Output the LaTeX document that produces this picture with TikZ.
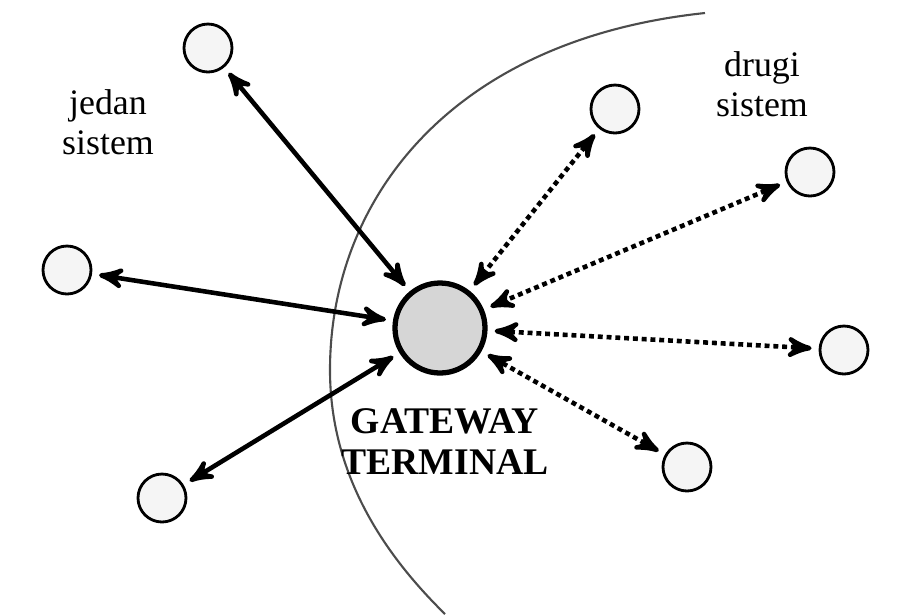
\documentclass[tikz,border=0pt]{standalone}
\usepackage{fontspec}
\setmainfont{Liberation Serif}
\usepackage{tikz}
\usetikzlibrary{arrows}
\usetikzlibrary{positioning}
\newlength{\gwunit}
\setlength{\gwunit}{0.01cm}
\tikzstyle{hoststyle}=[circle, draw, line width=0.8pt, fill=gray!8, minimum size=48\gwunit, inner sep=0pt]
\tikzstyle{gatestyle}=[circle, draw, line width=1.5pt, fill=gray!32, minimum size=90\gwunit, inner sep=0pt]
\tikzstyle{edgestyle}=[draw, line width=1.3pt, <->, >=stealth', shorten >=2pt, shorten <=2pt]
\tikzstyle{dotedge}=[edgestyle, dash pattern=on 1.4pt off 1.1pt]
\tikzstyle{labelstyle}=[align=center, font=\fontsize{10.2}{11.4}\selectfont]
\newcommand{\gwhost}[2]{\node [hoststyle] (#1) at #2 {};}

\begin{document}
\begin{tikzpicture}[x=\gwunit, y=-\gwunit]
\useasboundingbox (0,0) rectangle (908,614);
% border between the two systems
\draw [line width=0.6pt, gray!60!black] (705,13) .. controls (450,40) and (330,200) .. (330,370)
  .. controls (330,480) and (390,560) .. (445,614);
% gateway
\node [gatestyle] (gw) at (440,328) {};
\node [labelstyle, font=\fontsize{10.7}{11.8}\selectfont\bfseries, below=0.2cm of gw, xshift=5\gwunit] (gwtext) {GATEWAY\\TERMINAL};
% jedan sistem
\gwhost{a}{(208,48)}
\gwhost{b}{(67,270)}
\gwhost{c}{(162,498)}
% drugi sistem
\gwhost{d}{(615,109)}
\gwhost{e}{(810,172)}
\gwhost{f}{(844,350)}
\gwhost{g}{(687,467)}
\node [labelstyle] (left) at (108,122) {jedan\\sistem};
\node [labelstyle] (right) at (762,84) {drugi\\sistem};
\draw [edgestyle] (a) -- (gw);
\draw [edgestyle] (b) -- (gw);
\draw [edgestyle] (c) -- (gw);
\draw [dotedge] (d) -- (gw);
\draw [dotedge] (e) -- (gw);
\draw [dotedge] (f) -- (gw);
\draw [dotedge] (g) -- (gw);
\end{tikzpicture}
\end{document}
